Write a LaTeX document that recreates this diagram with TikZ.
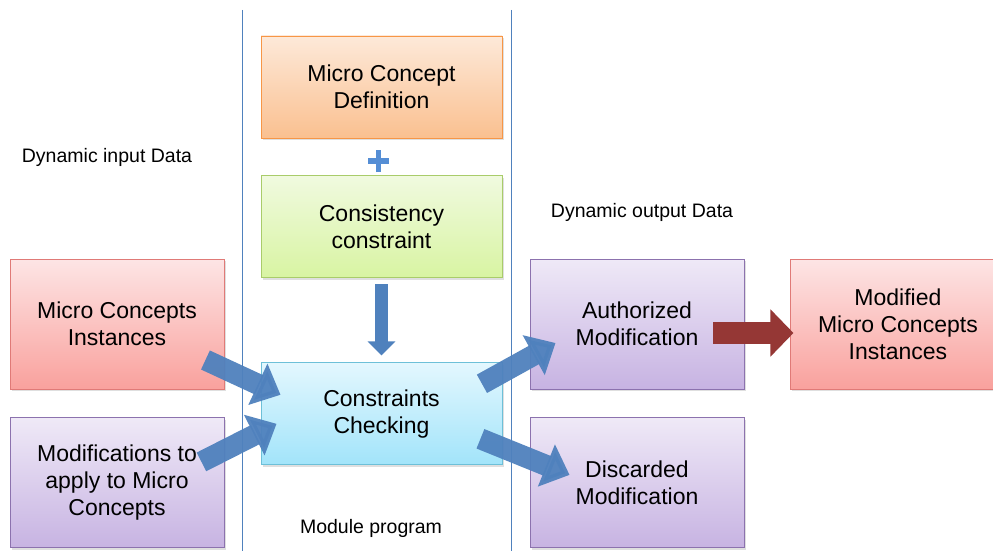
\documentclass[tikz,border=0pt]{standalone}
\usepackage{fontspec}
\setmainfont{Liberation Sans}
\usetikzlibrary{shapes, arrows.meta, positioning, shadows}
\definecolor{orangetop}{HTML}{FDE9D9}
\definecolor{orangebot}{HTML}{FAC090}
\definecolor{orangeline}{HTML}{F79646}
\definecolor{greentop}{HTML}{F0FADF}
\definecolor{greenbot}{HTML}{D8F4A2}
\definecolor{greenline}{HTML}{A9CC6A}
\definecolor{cyantop}{HTML}{E3F7FE}
\definecolor{cyanbot}{HTML}{A2E4FA}
\definecolor{cyanline}{HTML}{6DC0D8}
\definecolor{redtop}{HTML}{FDE5E5}
\definecolor{redbot}{HTML}{F9A19D}
\definecolor{redline}{HTML}{E07A77}
\definecolor{violettop}{HTML}{EFE9F7}
\definecolor{violetbot}{HTML}{C7B3E2}
\definecolor{violetline}{HTML}{8C72AE}
\definecolor{flowblue}{HTML}{4F81BD}
\definecolor{plusblue}{HTML}{558ED5}
\definecolor{flowred}{HTML}{953735}
\tikzstyle{block}=[draw,rectangle,align=center,line width=0.9pt,
  font=\fontsize{23}{27}\selectfont,
  drop shadow={shadow xshift=1.5pt,shadow yshift=-2pt,opacity=0.25}]
\tikzstyle{midblock}=[block,minimum width=241pt,minimum height=102pt]
\tikzstyle{sideblock}=[block,minimum width=214pt,minimum height=130pt]
\tikzstyle{defbox}=[midblock,draw=orangeline,top color=orangetop,bottom color=orangebot]
\tikzstyle{consbox}=[midblock,draw=greenline,top color=greentop,bottom color=greenbot]
\tikzstyle{checkbox}=[midblock,draw=cyanline,top color=cyantop,bottom color=cyanbot]
\tikzstyle{datbox}=[sideblock,draw=redline,top color=redtop,bottom color=redbot]
\tikzstyle{modbox}=[sideblock,draw=violetline,top color=violettop,bottom color=violetbot]
\tikzstyle{caption}=[font=\fontsize{19.5}{23}\selectfont]
\tikzstyle{sepline}=[draw=flowblue,line width=0.9pt]
\tikzstyle{fatarrow}=[flowblue,opacity=0.95,line width=21pt,-{Triangle[length=25pt,width=44pt]}]
\tikzstyle{redarrow}=[flowred,line width=22pt,-{Triangle[length=23pt,width=46pt]}]
\tikzstyle{downarrow}=[flowblue,line width=13pt,-{Triangle[length=14pt,width=27pt]}]
\tikzstyle{plusbar}=[plusblue,line width=6pt]

\begin{document}
\begin{tikzpicture}[auto,x=1pt,y=1pt]
  \useasboundingbox (0,0) rectangle (993,-551);
  \draw[sepline] (242,-10) -- (242,-551);
  \draw[sepline] (511,-10) -- (511,-551);

  \node[defbox] (def) at (381.5,-87) {Micro Concept\\Definition};
  \node[consbox, below=37pt of def] (cons) {Consistency\\constraint};
  \node[checkbox, below=84pt of cons] (check) {Constraints\\Checking};
  \node[datbox] (inst) at (117,-324) {Micro Concepts\\Instances};
  \node[modbox, below=28pt of inst] (mods) {Modifications to\\apply to Micro\\Concepts};
  \node[modbox] (auth) at (637,-324) {Authorized\\Modification};
  \node[modbox, below=28pt of auth] (disc) {Discarded\\Modification};
  \node[datbox, right=46pt of auth] (modinst) {Modified\\Micro Concepts\\Instances};

  \node[caption] (inlabel) at (107,-157) {Dynamic input Data};
  \node[caption] (outlabel) at (642,-212) {Dynamic output Data};
  \node[caption] (modlabel) at (371,-528) {Module program};

  \node (plus) at (378.5,-161) {};
  \draw[plusbar] ([xshift=-10.5pt]plus.center) -- ([xshift=10.5pt]plus.center);
  \draw[plusbar,line width=5.5pt] ([yshift=-11pt]plus.center) -- ([yshift=11pt]plus.center);

  \draw[downarrow] ([yshift=-6pt]cons.south) -- ([yshift=7pt]check.north);
  \draw[fatarrow] ([shift={(-19pt,-36pt)}]inst.east) -- ([shift={(20pt,19pt)}]check.west);
  \draw[fatarrow] ([shift={(-23pt,21pt)}]mods.east) -- ([shift={(16pt,-10pt)}]check.west);
  \draw[fatarrow] ([shift={(-20.5pt,30pt)}]check.east) -- ([shift={(26pt,-19pt)}]auth.west);
  \draw[fatarrow] ([shift={(-22pt,-25pt)}]check.east) -- ([shift={(40pt,8pt)}]disc.west);
  \draw[redarrow] ([shift={(-31pt,-9pt)}]auth.east) -- ([shift={(3pt,-9pt)}]modinst.west);
\end{tikzpicture}
\end{document}
